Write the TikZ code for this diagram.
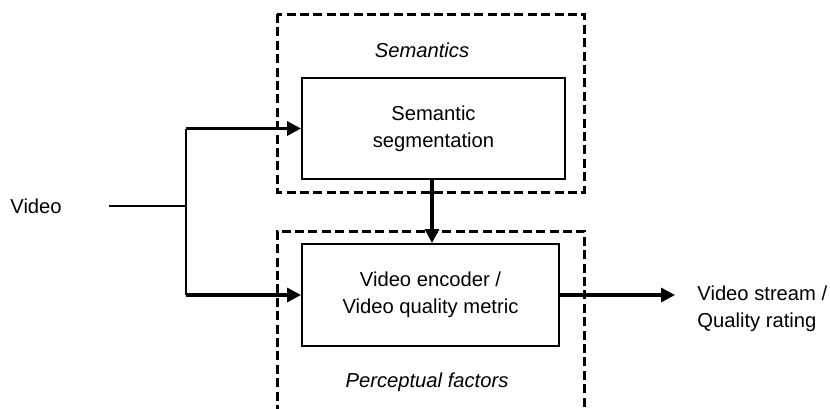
\documentclass[tikz,border=0pt]{standalone}
\usepackage{fontspec}
\setmainfont{Liberation Sans}
\usetikzlibrary{arrows.meta}
\begin{document}
\begin{tikzpicture}[x=0.5pt,y=-0.5pt,
  font=\fontsize{10.1pt}{12.6pt}\selectfont,
  group/.style={draw,line width=1.5pt,dash pattern=on 4.5pt off 2.2pt},
  block/.style={draw,line width=1pt,align=center,inner sep=0pt},
  flow/.style={line width=1.6pt,-{Triangle[length=7pt,width=7pt]}},
  feed/.style={line width=1.1pt},
  label/.style={align=left,anchor=west,inner sep=0pt}]
\useasboundingbox (0,0) rectangle (830,408);
% dashed groups
\draw[group] (277,14) rectangle (584,192);
\draw[group] (584,420) -- (584,231) -- (277,231) -- (277,420);
% group titles
\node[font=\fontsize{10.1pt}{12.6pt}\selectfont\itshape] (sem) at (422,50) {Semantics};
\node[font=\fontsize{10.1pt}{12.6pt}\selectfont\itshape] (perc) at (427,382) {Perceptual factors};
% blocks
\node[block,minimum width=131.5pt,minimum height=50.5pt] (seg) at (433.5,128.5)
  {Semantic\\[1pt]segmentation};
\node[block,minimum width=128.5pt,minimum height=51pt] (enc) at (430.5,295)
  {Video encoder /\\[1pt]Video quality metric};
% input
\node[label] (vid) at (10,206) {Video};
\coordinate (vin) at (109,206);
\coordinate (split) at (186,206);
\coordinate (up) at (186,128.5);
\coordinate (dn) at (186,295);
\draw[line width=0.8pt] (vin) -- (split);
\draw[feed] (up) -- (dn);
\draw[flow] (up) -- (seg.west);
\draw[flow] (dn) -- (enc.west);
% semantics into encoder
\draw[flow] (seg.south -| 432,0) -- (enc.north -| 432,0);
% output
\node[label] (out) at (697,309) {Video stream /\\[1pt]Quality rating};
\coordinate (tip) at (675,295);
\draw[flow] (enc.east) -- (tip);
\end{tikzpicture}
\end{document}
